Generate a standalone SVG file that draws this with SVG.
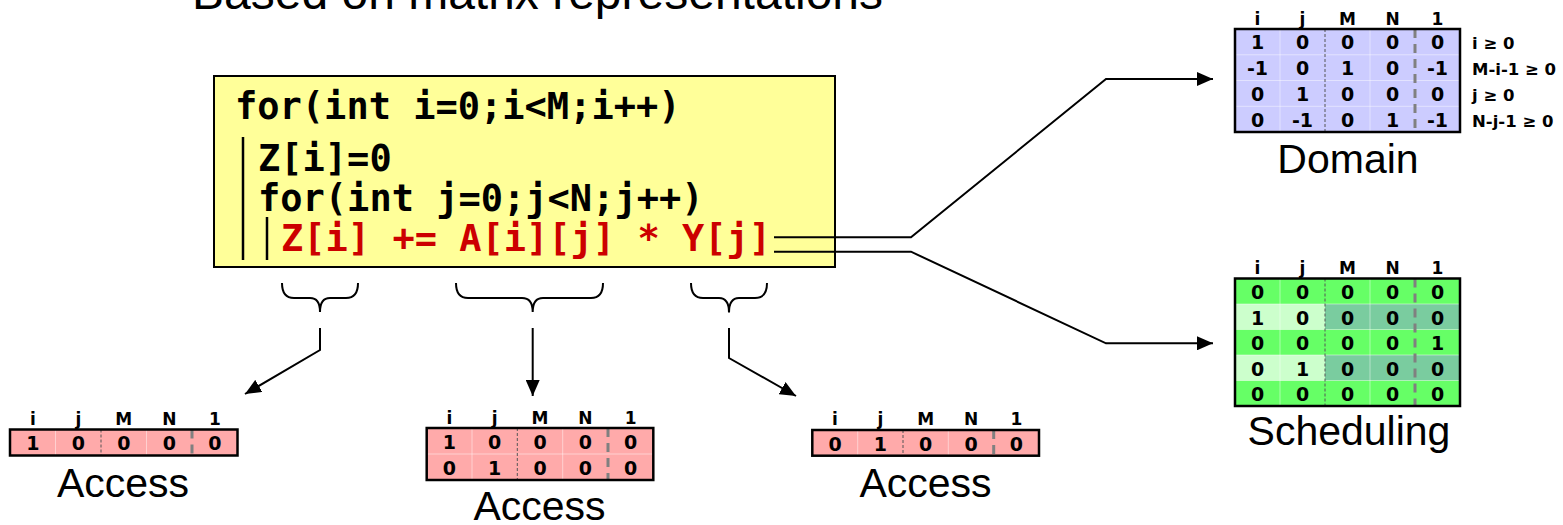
<svg xmlns="http://www.w3.org/2000/svg" width="1563" height="525" viewBox="0 0 1563 525">
  <style>
    .title { font-family: "Liberation Sans", Arial, sans-serif; font-size: 48px; fill: #000; }
    .caption { font-family: "Liberation Sans", Arial, sans-serif; font-size: 41px; fill: #000; text-anchor: middle; }
    .code { font-family: "DejaVu Sans Mono", "Liberation Mono", monospace; font-weight: bold; font-size: 37px; fill: #000; white-space: pre; }
    .code.hot { fill: #cc0000; }
    .hdr { font-family: "DejaVu Sans", "Liberation Sans", sans-serif; font-weight: bold; font-size: 17px; fill: #000; text-anchor: middle; }
    .num { font-family: "DejaVu Sans", "Liberation Sans", sans-serif; font-weight: bold; font-size: 19px; fill: #000; text-anchor: middle; }
    .cond { font-family: "DejaVu Sans", "Liberation Sans", sans-serif; font-weight: bold; font-size: 16.5px; fill: #000; }
    .frame { fill: none; stroke: #000; stroke-width: 2.5; }
    .grid { stroke: #ffffff; stroke-opacity: 0.45; stroke-width: 1; fill: none; }
    .sepThin { stroke: #555; stroke-width: 1; stroke-dasharray: 3 2; fill: none; }
    .sepConst { stroke: #808080; stroke-width: 3; stroke-dasharray: 9 6; fill: none; }
    .wire { fill: none; stroke: #000; stroke-width: 2; }
    .brace { fill: none; stroke: #000; stroke-width: 2; }
    .bar { stroke: #000; stroke-width: 2.5; }
  </style>
  <defs>
    <marker id="arrow" viewBox="0 0 16 14" refX="16" refY="7" markerWidth="16" markerHeight="14" markerUnits="userSpaceOnUse" orient="auto">
      <path d="M0,0 L16,7 L0,14 Z" fill="#000"/>
    </marker>
  </defs>

  <rect width="1563" height="525" fill="#fff"/>

  <!-- heading, partly above the top edge -->
  <text class="title" x="192" y="9">Based on matrix representations</text>

  <!-- loop nest source -->
  <g id="code">
    <rect x="214" y="76" width="621" height="191" fill="#ffff99" stroke="#000" stroke-width="2"/>
    <line class="bar" x1="243" y1="137" x2="243" y2="260"/>
    <line class="bar" x1="267" y1="217" x2="267" y2="260"/>
    <text class="code" x="235" y="119">for(int i=0;i&lt;M;i++)</text>
    <text class="code" x="258" y="171">Z[i]=0</text>
    <text class="code" x="258" y="211">for(int j=0;j&lt;N;j++)</text>
    <text class="code hot" x="281" y="251">Z[i] += A[i][j] * Y[j]</text>
  </g>

  <!-- domain matrix -->
  <g id="domain">
    <rect x="1235" y="29" width="225" height="103" fill="#ccccff"/>
    <path class="grid" d="M1235,54.8H1460M1235,80.5H1460M1235,106.3H1460M1280,29V132M1370,29V132"/>
    <line class="sepThin" x1="1325" y1="29" x2="1325" y2="132"/>
    <line class="sepConst" x1="1415" y1="29" x2="1415" y2="132"/>
    <rect class="frame" x="1235" y="29" width="225" height="103"/>
    <g class="hdr">
      <text x="1257.5" y="25">i</text><text x="1302.5" y="25">j</text><text x="1347.5" y="25">M</text><text x="1392.5" y="25">N</text><text x="1437.5" y="25">1</text>
    </g>
    <g class="num">
      <text x="1257.5" y="49">1</text><text x="1302.5" y="49">0</text><text x="1347.5" y="49">0</text><text x="1392.5" y="49">0</text><text x="1437.5" y="49">0</text>
      <text x="1257.5" y="75">-1</text><text x="1302.5" y="75">0</text><text x="1347.5" y="75">1</text><text x="1392.5" y="75">0</text><text x="1437.5" y="75">-1</text>
      <text x="1257.5" y="101">0</text><text x="1302.5" y="101">1</text><text x="1347.5" y="101">0</text><text x="1392.5" y="101">0</text><text x="1437.5" y="101">0</text>
      <text x="1257.5" y="126.5">0</text><text x="1302.5" y="126.5">-1</text><text x="1347.5" y="126.5">0</text><text x="1392.5" y="126.5">1</text><text x="1437.5" y="126.5">-1</text>
    </g>
    <g class="cond">
      <text x="1472" y="49">i ≥ 0</text>
      <text x="1472" y="75">M-i-1 ≥ 0</text>
      <text x="1472" y="101">j ≥ 0</text>
      <text x="1472" y="126.5">N-j-1 ≥ 0</text>
    </g>
    <text class="caption" x="1348" y="173">Domain</text>
  </g>

  <!-- scheduling matrix -->
  <g id="scheduling">
    <rect x="1235" y="278.5" width="225" height="127.5" fill="#66ff66"/>
    <rect x="1235" y="304" width="90" height="25.5" fill="#ccffcc"/>
    <rect x="1325" y="304" width="135" height="25.5" fill="#7acc9f"/>
    <rect x="1235" y="355" width="90" height="25.5" fill="#ccffcc"/>
    <rect x="1325" y="355" width="135" height="25.5" fill="#7acc9f"/>
    <path class="grid" d="M1235,304H1460M1235,329.5H1460M1235,355H1460M1235,380.5H1460M1280,278.5V406M1370,278.5V406"/>
    <line class="sepThin" x1="1325" y1="278.5" x2="1325" y2="406"/>
    <line class="sepConst" x1="1415" y1="278.5" x2="1415" y2="406"/>
    <rect class="frame" x="1235" y="278.5" width="225" height="127.5"/>
    <g class="hdr">
      <text x="1257.5" y="274">i</text><text x="1302.5" y="274">j</text><text x="1347.5" y="274">M</text><text x="1392.5" y="274">N</text><text x="1437.5" y="274">1</text>
    </g>
    <g class="num">
      <text x="1257.5" y="299">0</text><text x="1302.5" y="299">0</text><text x="1347.5" y="299">0</text><text x="1392.5" y="299">0</text><text x="1437.5" y="299">0</text>
      <text x="1257.5" y="324.5">1</text><text x="1302.5" y="324.5">0</text><text x="1347.5" y="324.5">0</text><text x="1392.5" y="324.5">0</text><text x="1437.5" y="324.5">0</text>
      <text x="1257.5" y="350">0</text><text x="1302.5" y="350">0</text><text x="1347.5" y="350">0</text><text x="1392.5" y="350">0</text><text x="1437.5" y="350">1</text>
      <text x="1257.5" y="375.5">0</text><text x="1302.5" y="375.5">1</text><text x="1347.5" y="375.5">0</text><text x="1392.5" y="375.5">0</text><text x="1437.5" y="375.5">0</text>
      <text x="1257.5" y="401">0</text><text x="1302.5" y="401">0</text><text x="1347.5" y="401">0</text><text x="1392.5" y="401">0</text><text x="1437.5" y="401">0</text>
    </g>
    <text class="caption" x="1349" y="445">Scheduling</text>
  </g>

  <!-- access matrix for Z[i] -->
  <g id="access-z">
    <rect x="10" y="429.5" width="227.5" height="26" fill="#ffaaaa"/>
    <path class="grid" d="M55.5,429.5V455.5M146.5,429.5V455.5"/>
    <line class="sepThin" x1="101" y1="429.5" x2="101" y2="455.5"/>
    <line class="sepConst" x1="192" y1="429.5" x2="192" y2="455.5"/>
    <rect class="frame" x="10" y="429.5" width="227.5" height="26"/>
    <g class="hdr">
      <text x="32.8" y="425">i</text><text x="78.3" y="425">j</text><text x="123.8" y="425">M</text><text x="169.3" y="425">N</text><text x="214.8" y="425">1</text>
    </g>
    <g class="num">
      <text x="32.8" y="450">1</text><text x="78.3" y="450">0</text><text x="123.8" y="450">0</text><text x="169.3" y="450">0</text><text x="214.8" y="450">0</text>
    </g>
    <text class="caption" x="123" y="497">Access</text>
  </g>

  <!-- access matrix for A[i][j] -->
  <g id="access-a">
    <rect x="426.7" y="428" width="226.6" height="52" fill="#ffaaaa"/>
    <path class="grid" d="M426.7,454H653.3M472,428V480M562.7,428V480"/>
    <line class="sepThin" x1="517.3" y1="428" x2="517.3" y2="480"/>
    <line class="sepConst" x1="608" y1="428" x2="608" y2="480"/>
    <rect class="frame" x="426.7" y="428" width="226.6" height="52"/>
    <g class="hdr">
      <text x="449.4" y="424">i</text><text x="494.7" y="424">j</text><text x="540" y="424">M</text><text x="585.3" y="424">N</text><text x="630.6" y="424">1</text>
    </g>
    <g class="num">
      <text x="449.4" y="448.5">1</text><text x="494.7" y="448.5">0</text><text x="540" y="448.5">0</text><text x="585.3" y="448.5">0</text><text x="630.6" y="448.5">0</text>
      <text x="449.4" y="474.5">0</text><text x="494.7" y="474.5">1</text><text x="540" y="474.5">0</text><text x="585.3" y="474.5">0</text><text x="630.6" y="474.5">0</text>
    </g>
    <text class="caption" x="539.5" y="520">Access</text>
  </g>

  <!-- access matrix for Y[j] -->
  <g id="access-y">
    <rect x="812.3" y="430" width="226.7" height="25.7" fill="#ffaaaa"/>
    <path class="grid" d="M857.7,430V455.7M948.3,430V455.7"/>
    <line class="sepThin" x1="903" y1="430" x2="903" y2="455.7"/>
    <line class="sepConst" x1="993.7" y1="430" x2="993.7" y2="455.7"/>
    <rect class="frame" x="812.3" y="430" width="226.7" height="25.7"/>
    <g class="hdr">
      <text x="835" y="425">i</text><text x="880.3" y="425">j</text><text x="925.7" y="425">M</text><text x="971" y="425">N</text><text x="1016.3" y="425">1</text>
    </g>
    <g class="num">
      <text x="835" y="450.5">0</text><text x="880.3" y="450.5">1</text><text x="925.7" y="450.5">0</text><text x="971" y="450.5">0</text><text x="1016.3" y="450.5">0</text>
    </g>
    <text class="caption" x="925.5" y="497">Access</text>
  </g>

  <!-- braces under the array references, and the connectors -->
  <g id="connectors">
    <path class="brace" d="M282,283 Q282,298 294,298 L310,298 Q320,298 320,312 Q320,298 330,298 L346,298 Q358,298 358,283"/>
    <path class="brace" d="M456,283 Q456,298 468,298 L522,298 Q532.7,298 532.7,312 Q532.7,298 543,298 L591,298 Q603,298 603,283"/>
    <path class="brace" d="M691,283 Q691,298 703,298 L719,298 Q729,298 729,312.5 Q729,298 739,298 L755,298 Q767,298 767,283"/>

    <path class="wire" d="M320,328 V350 L245,394" marker-end="url(#arrow)"/>
    <path class="wire" d="M532.7,328 V396" marker-end="url(#arrow)"/>
    <path class="wire" d="M729,328 V358 L796,396" marker-end="url(#arrow)"/>

    <path class="wire" d="M774,237.3 H911 L1106,79 H1213" marker-end="url(#arrow)"/>
    <path class="wire" d="M774,251.7 H911 L1106,343.3 H1213" marker-end="url(#arrow)"/>
  </g>
</svg>
